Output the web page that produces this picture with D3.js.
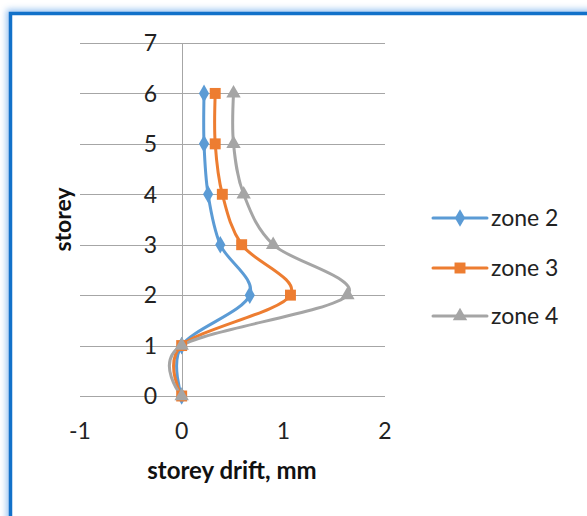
<!DOCTYPE html>
<html><head><meta charset="utf-8">
<script src="https://cdn.jsdelivr.net/npm/d3@7"></script>
<style>
html,body{margin:0;padding:0;background:#fff;overflow:hidden;}
svg{display:block;}
text{font-family:Lato,"Open Sans",sans-serif;}
</style></head>
<body>
<svg id="chart" width="587" height="516"></svg>
<script>
const storeys = [0, 1, 2, 3, 4, 5, 6];
const zone2 = [0, 0, 0.67, 0.38, 0.26, 0.22, 0.22];
const zone3 = [0, 0, 1.07, 0.59, 0.40, 0.33, 0.33];
const zone4 = [0, 0, 1.63, 0.90, 0.61, 0.51, 0.51];
const seriesNames = ["zone 2", "zone 3", "zone 4"];
const seriesColors = ["#5B9BD5", "#ED7D31", "#A5A5A5"];
const seriesSymbols = [d3.symbolDiamond, d3.symbolSquare, d3.symbolTriangle];
const xTicks = [-1, 0, 1, 2];
const yTicks = [0, 1, 2, 3, 4, 5, 6, 7];

const series = [zone2, zone3, zone4].map((vals, i) => ({
  name: seriesNames[i], color: seriesColors[i], symbol: seriesSymbols[i],
  points: vals.map((v, j) => ({x: v, y: storeys[j]}))
}));

const svg = d3.select("#chart");

// frame with glow
const defs = svg.append("defs");
const f = defs.append("filter").attr("id", "glow").attr("x", "-10%").attr("y", "-10%").attr("width", "120%").attr("height", "120%");
f.append("feGaussianBlur").attr("stdDeviation", 3);
svg.append("rect").attr("x", 10.5).attr("y", 13.5).attr("width", 620).attr("height", 560)
  .attr("fill", "none").attr("stroke", "#8fbdf0").attr("stroke-width", 8).attr("filter", "url(#glow)").attr("opacity", 0.9);
svg.append("rect").attr("x", 10.5).attr("y", 13.5).attr("width", 620).attr("height", 560)
  .attr("fill", "#fff").attr("stroke", "#1271C9").attr("stroke-width", 3.5);

const x = d3.scaleLinear().domain([-1, 2]).range([80, 385]);
const y = d3.scaleLinear().domain([0, 7]).range([396, 43]);

// gridlines
svg.append("g").selectAll("line").data(yTicks).join("line")
  .attr("x1", x(-1)).attr("x2", x(2))
  .attr("y1", d => Math.round(y(d)) + 0.5).attr("y2", d => Math.round(y(d)) + 0.5)
  .attr("stroke", "#a6a6a6").attr("stroke-width", 1);

// vertical axis at x=0
svg.append("line").attr("x1", Math.round(x(0)) + 0.5).attr("x2", Math.round(x(0)) + 0.5)
  .attr("y1", y(7)).attr("y2", y(0)).attr("stroke", "#a6a6a6").attr("stroke-width", 1);

// y tick labels
svg.append("g").selectAll("text").data(yTicks).join("text")
  .attr("x", 157).attr("y", d => y(d)).attr("dy", "0.36em")
  .attr("text-anchor", "end").attr("font-size", 23).attr("fill", "#222")
  .text(d => d);

// x tick labels
svg.append("g").selectAll("text").data(xTicks).join("text")
  .attr("x", d => x(d)).attr("y", 431).attr("dy", "0.36em")
  .attr("text-anchor", "middle").attr("font-size", 23).attr("fill", "#222")
  .text(d => d);

// axis titles
svg.append("text").attr("x", 232).attr("y", 470).attr("dy", "0.36em")
  .attr("text-anchor", "middle").attr("font-size", 24).attr("font-weight", "bold").attr("fill", "#111")
  .text("storey drift, mm");
svg.append("text").attr("transform", `translate(63,${(y(0) + y(7)) / 2}) rotate(-90)`)
  .attr("dy", "0.36em").attr("text-anchor", "middle").attr("font-size", 23).attr("font-weight", "bold").attr("fill", "#111")
  .text("storey");

// lines
const line = d3.line().x(d => x(d.x)).y(d => y(d.y)).curve(d3.curveCatmullRom.alpha(0));
const g = svg.append("g");
series.forEach(s => {
  g.append("path").attr("d", line(s.points)).attr("fill", "none")
    .attr("stroke", s.color).attr("stroke-width", 3).attr("stroke-linejoin", "round").attr("stroke-linecap", "round");
});
const symSize = t => t === d3.symbolSquare ? 120 : 90;
series.forEach(s => {
  const sym = d3.symbol().type(s.symbol).size(symSize(s.symbol));
  g.append("g").selectAll("path").data(s.points).join("path")
    .attr("transform", d => `translate(${x(d.x)},${y(d.y)})`)
    .attr("d", sym).attr("fill", s.color);
});

// legend
const legY = [218, 268, 316];
const leg = svg.append("g");
series.forEach((s, i) => {
  const gy = legY[i];
  leg.append("line").attr("x1", 433).attr("x2", 487).attr("y1", gy).attr("y2", gy)
    .attr("stroke", s.color).attr("stroke-width", 3).attr("stroke-linecap", "round");
  const sym = d3.symbol().type(s.symbol).size(symSize(s.symbol));
  leg.append("path").attr("transform", `translate(460,${gy})`).attr("d", sym).attr("fill", s.color);
  leg.append("text").attr("x", 491).attr("y", gy).attr("dy", "0.36em")
    .attr("font-size", 23).attr("fill", "#222").text(s.name);
});
</script>
</body></html>
